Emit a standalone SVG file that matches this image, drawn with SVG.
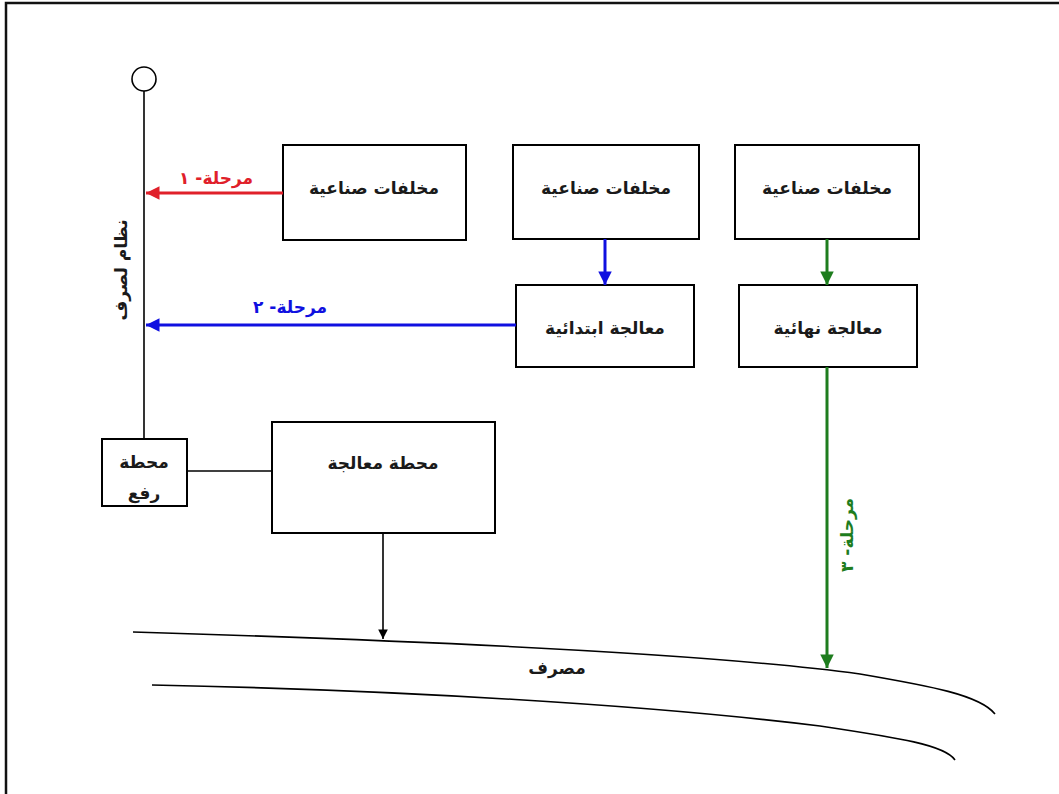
<svg xmlns="http://www.w3.org/2000/svg" width="1059" height="794" viewBox="0 0 1059 794">
<defs>
<style>
.box{fill:none;stroke:#000;stroke-width:2}
.t{font-family:"DejaVu Sans","Noto Sans",sans-serif;font-size:17px;font-weight:600;text-anchor:middle;fill:#1a1a1a}
.line{fill:none;stroke:#000;stroke-width:1.6}
</style>
<marker id="ar" viewBox="0 0 10 10" refX="10" refY="5" markerWidth="5" markerHeight="4.5" orient="auto" markerUnits="strokeWidth"><path d="M0,0 L10,5 L0,10 z" fill="#e0202a"/></marker>
<marker id="ab" viewBox="0 0 10 10" refX="10" refY="5" markerWidth="5" markerHeight="4.5" orient="auto" markerUnits="strokeWidth"><path d="M0,0 L10,5 L0,10 z" fill="#1010e0"/></marker>
<marker id="ag" viewBox="0 0 10 10" refX="10" refY="5" markerWidth="5" markerHeight="4.5" orient="auto" markerUnits="strokeWidth"><path d="M0,0 L10,5 L0,10 z" fill="#1e7d1e"/></marker>
<marker id="ak" viewBox="0 0 10 10" refX="10" refY="5" markerWidth="6" markerHeight="6" orient="auto" markerUnits="strokeWidth"><path d="M0,0 L10,5 L0,10 z" fill="#000"/></marker>
</defs>
<rect width="1059" height="794" fill="#fff"/>
<path d="M6,794 V3 H1059" fill="none" stroke="#111" stroke-width="2.5"/>

<g id="sewer">
<circle cx="144" cy="79" r="12" fill="none" stroke="#000" stroke-width="1.6"/>
<line x1="144" y1="91" x2="144" y2="439" class="line"/>
<text class="t" transform="translate(121,270) rotate(-90)" dy="6">نظام لصرف</text>
</g>

<g id="n1"><rect x="283" y="145" width="183" height="95" class="box"/><text class="t" x="374" y="194">مخلفات صناعية</text></g>
<g id="n2"><rect x="513" y="145" width="186" height="94" class="box"/><text class="t" x="606" y="194">مخلفات صناعية</text></g>
<g id="n3"><rect x="735" y="145" width="184" height="94" class="box"/><text class="t" x="827" y="194">مخلفات صناعية</text></g>
<g id="n4"><rect x="516" y="285" width="178" height="82" class="box"/><text class="t" x="605" y="334">معالجة ابتدائية</text></g>
<g id="n5"><rect x="739" y="285" width="178" height="82" class="box"/><text class="t" x="828" y="334">معالجة نهائية</text></g>
<g id="n6"><rect x="102" y="439" width="85" height="67" class="box"/><text class="t" x="144" y="468">محطة</text><text class="t" x="144" y="499">رفع</text></g>
<g id="n7"><rect x="272" y="422" width="223" height="111" class="box"/><text class="t" x="383" y="469">محطة معالجة</text></g>

<g id="drain">
<path d="M133,632 C400,640 700,652 860,674 C930,686 980,695 995,714" class="line"/>
<path d="M152,685 C400,690 650,705 820,726 C900,738 945,745 955,760" class="line"/>
<text class="t" x="557" y="674">مصرف</text>
</g>

<g id="connectors">
<line x1="283" y1="193" x2="146" y2="193" stroke="#e0202a" stroke-width="3" marker-end="url(#ar)"/>
<text class="t" x="216" y="184" style="fill:#e0202a">مرحلة- ١</text>
<line x1="516" y1="325" x2="146" y2="325" stroke="#1010e0" stroke-width="3" marker-end="url(#ab)"/>
<text class="t" x="290" y="313" style="fill:#1010e0">مرحلة- ٢</text>
<line x1="605" y1="239" x2="605" y2="285" stroke="#1010e0" stroke-width="3" marker-end="url(#ab)"/>
<line x1="827" y1="239" x2="827" y2="285" stroke="#1e7d1e" stroke-width="3" marker-end="url(#ag)"/>
<line x1="827" y1="367" x2="827" y2="668" stroke="#1e7d1e" stroke-width="3" marker-end="url(#ag)"/>
<text class="t" transform="translate(847,535) rotate(-90)" dy="6" style="fill:#1e7d1e">مرحلة- ٣</text>
<line x1="187" y1="471" x2="272" y2="471" class="line"/>
<line x1="383" y1="533" x2="383" y2="639" class="line" marker-end="url(#ak)"/>
</g>
</svg>
